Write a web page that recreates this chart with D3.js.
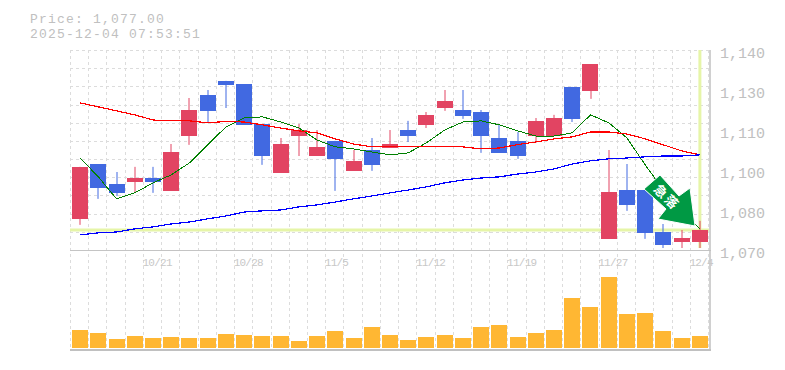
<!DOCTYPE html>
<html>
<head>
<meta charset="utf-8">
<script src="https://cdn.jsdelivr.net/npm/d3@7"></script>
<style>
	html, body { margin: 0; padding: 0; background: #fff; }
	svg { display: block; }
	text { font-family: "Liberation Mono", monospace; fill: #c0c0c0; }
</style>
</head>
<body>
<figure id="chart" style="margin:0"></figure>
<script>
var opens = [1080.9,1100.1,1093.1,1093.8,1095.2,1090.7,1109.9,1124.3,1129.2,1128.1,1114.1,1097,1109.9,1102.9,1108.2,1097.7,1105,1105.7,1112,1113.8,1119.7,1119,1118.3,1109.2,1108.2,1109.9,1109.9,1127.1,1125.7,1073.9,1091,1091,1076.3,1072.8,1072.8];
var closes = [1099.1,1091.7,1090,1095.2,1093.8,1104.3,1119,1118.7,1127.8,1113.8,1102.9,1107.1,1112,1106,1101.9,1101.2,1099.8,1107.1,1109.9,1117.3,1122.2,1116.9,1109.9,1104,1102.9,1115.2,1116.2,1115.9,1135.1,1090.3,1085.8,1076,1071.8,1074.2,1077];
var highs = [1099.1,1100.1,1097.3,1099.1,1099.1,1107.1,1123.2,1126,1129.2,1128.1,1114.1,1109.2,1114.1,1112,1108.2,1105,1109.2,1112,1115.2,1118.3,1126,1126,1119,1114.1,1111.3,1116.2,1117.3,1127.1,1135.1,1105,1100.1,1091,1079.1,1077,1080.2];
var lows = [1078.8,1087.9,1088.9,1090.3,1090,1090.7,1106.8,1114.8,1119.7,1113.8,1099.8,1097,1102.9,1102.9,1090.7,1097.7,1097.7,1105.7,1107.8,1112.7,1118.7,1115.9,1104,1104,1101.9,1107.5,1109.9,1114.8,1122.9,1073.9,1083.7,1073.9,1070.7,1070.7,1070.7];

var maRed = [1121.5,1120.1,1118.7,1117.3,1115.5,1115.2,1115.2,1114.5,1115,1114.8,1113.8,1112.7,1111.7,1111,1108.9,1107.1,1106.1,1106.1,1106.1,1106.1,1106.2,1106.1,1105.4,1105.7,1106.9,1107.8,1108.9,1109.6,1111.3,1111.3,1110.6,1108.9,1106.8,1104.7,1103.3];
var maGreen = [1102.2,1095.6,1087.9,1090,1093.5,1096.3,1100.5,1106.8,1113.1,1116.2,1116.6,1114.8,1112.7,1108.5,1106.1,1105.4,1104.3,1103.3,1104,1107.5,1112,1114.8,1115.2,1113.8,1111.7,1109.9,1109.9,1111,1117.3,1114.5,1109.2,1099.8,1091,1084,1077.4];
var maBlue = [1075.3,1076,1076.3,1077.4,1078.1,1079.1,1079.8,1080.9,1081.9,1083.3,1083.7,1084,1085.1,1085.8,1086.8,1087.9,1088.9,1090,1091,1092.1,1093.5,1094.5,1095.2,1095.6,1096.6,1097.3,1098.4,1100.1,1101.2,1101.9,1102.2,1102.6,1102.9,1102.9,1103.3];

var volumes = [18,15,9,12,10,11,10,10,14,13,12,12,7,12,17,10,21,13,8,11,13,10,21,23,11,15,18,50,41,71,34,35,17,10,12];

var priceTicks = [1140,1126,1112,1098,1084,1070];
var priceLabels = ["1,140","1,130","1,110","1,100","1,080","1,070"];
var dateIndex = [4,9,14,19,24,29,34];
var dateLabels = ["10/21","10/28","11/5","11/12","11/19","11/27","12/4"];

var lastPrice = 1077;
var title = ["Price: 1,077.00","2025-12-04 07:53:51"];

var dimensions = { width: 785, height: 370, left: 71, right: 709, top: 50, bottom: 250, volTop: 277, volBottom: 348, axisBottom: 350 };

var svg = d3.select("figure#chart").append("svg")
	.attr("width", dimensions.width)
	.attr("height", dimensions.height);

var index = d3.range(opens.length);

var xScale = d3.scaleBand().domain(index).range([dimensions.left, dimensions.right]).paddingInner(0.12).paddingOuter(0.06);
var step = xScale.step();
var xMid = function(i) { return xScale(i) + xScale.bandwidth() / 2; };
var yScale = d3.scaleLinear().domain([1070, 1140]).range([dimensions.bottom, dimensions.top]);
var vScale = d3.scaleLinear().domain([0, 71]).range([dimensions.volBottom, dimensions.volTop]);

// grid, dashed, on band edges
var gridX = d3.range(0, index.length + 1).map(function(i) { return dimensions.left + step * i; });
var gridY = d3.range(0, 12).map(function(i) { return dimensions.top + (dimensions.bottom - dimensions.top) * i / 11; });

svg.append("g").selectAll("line").data(gridX).enter().append("line")
	.attr("x1", function(d) { return Math.round(d) - 0.5; })
	.attr("x2", function(d) { return Math.round(d) - 0.5; })
	.attr("y1", dimensions.top).attr("y2", dimensions.axisBottom)
	.attr("stroke", "#dcdcdc").attr("stroke-dasharray", "3,3");
svg.append("g").selectAll("line").data(gridY).enter().append("line")
	.attr("x1", dimensions.left - 1).attr("x2", dimensions.right + 1)
	.attr("y1", function(d) { return Math.round(d) + 0.5; })
	.attr("y2", function(d) { return Math.round(d) + 0.5; })
	.attr("stroke", "#dcdcdc").attr("stroke-dasharray", "3,3");

// frame
svg.append("line").attr("x1", 70).attr("x2", 711).attr("y1", 250.5).attr("y2", 250.5).attr("stroke", "#c4c4c4");
svg.append("line").attr("x1", 70).attr("x2", 711).attr("y1", 350).attr("y2", 350).attr("stroke", "#c0c0c0").attr("stroke-width", 2);
svg.append("line").attr("x1", 710).attr("x2", 710).attr("y1", 50).attr("y2", 351).attr("stroke", "#c0c0c0").attr("stroke-width", 1.5);

// last price cross
svg.append("line").attr("x1", 70).attr("x2", 709)
	.attr("y1", yScale(lastPrice)).attr("y2", yScale(lastPrice))
	.attr("stroke", "#e6f5a8").attr("stroke-width", 3);
svg.append("line").attr("x1", xMid(34)).attr("x2", xMid(34))
	.attr("y1", dimensions.top).attr("y2", dimensions.bottom - 2)
	.attr("stroke", "#e6f5a8").attr("stroke-width", 3);

// candles
var upColor = "#e24462", downColor = "#4169e1";
var candleColor = function(i) { return closes[i] >= opens[i] ? upColor : downColor; };

svg.append("g").selectAll("line").data(index).enter().append("line")
	.attr("x1", function(i) { return Math.round(xMid(i)); })
	.attr("x2", function(i) { return Math.round(xMid(i)); })
	.attr("y1", function(i) { return yScale(highs[i]); })
	.attr("y2", function(i) { return yScale(lows[i]); })
	.attr("stroke", candleColor).attr("stroke-width", 1);

svg.append("g").selectAll("rect").data(index).enter().append("rect")
	.attr("x", function(i) { return Math.round(xScale(i)); })
	.attr("width", 16)
	.attr("y", function(i) { return yScale(Math.max(opens[i], closes[i])); })
	.attr("height", function(i) { return Math.abs(yScale(opens[i]) - yScale(closes[i])); })
	.attr("fill", candleColor)
	.attr("shape-rendering", "crispEdges");

// moving averages
var line = function(values) {
	return d3.line().x(function(d, i) { return xMid(i); }).y(function(d) { return yScale(d); })(values);
};
svg.append("path").attr("d", line(maGreen)).attr("fill", "none").attr("stroke", "#008000").attr("stroke-width", 1).attr("shape-rendering", "crispEdges");
svg.append("path").attr("d", line(maRed)).attr("fill", "none").attr("stroke", "#ff0000").attr("stroke-width", 1.2).attr("shape-rendering", "crispEdges");
svg.append("path").attr("d", line(maBlue)).attr("fill", "none").attr("stroke", "#0000ff").attr("stroke-width", 1.2).attr("shape-rendering", "crispEdges");

// volume
svg.append("g").selectAll("rect").data(index).enter().append("rect")
	.attr("x", function(i) { return Math.round(xScale(i)); })
	.attr("width", 16)
	.attr("y", function(i) { return vScale(volumes[i]); })
	.attr("height", function(i) { return vScale(0) - vScale(volumes[i]); })
	.attr("fill", "#ffb733")
	.attr("shape-rendering", "crispEdges");

// labels
svg.append("g").selectAll("text").data(title).enter().append("text")
	.attr("x", 30).attr("y", function(d, i) { return 23 + i * 15; })
	.attr("font-size", 13)
	.style("letter-spacing", "1.2px")
	.text(function(d) { return d; });

svg.append("g").selectAll("text").data(priceLabels).enter().append("text")
	.attr("x", 720)
	.attr("y", function(d, i) { return yScale(priceTicks[i]) + 8; })
	.attr("font-size", 15)
	.text(function(d) { return d; });

svg.append("g").selectAll("text").data(dateLabels).enter().append("text")
	.attr("x", function(d, i) { return xMid(dateIndex[i]) - 10.5; })
	.attr("y", 266)
	.attr("font-size", 11)
	.style("letter-spacing", "-0.75px")
	.style("fill", "#c8c8c8")
	.text(function(d) { return d; });

// stamp arrow
var stamp = svg.append("g");
stamp.append("polygon")
	.attr("points", "660,175 679,196 690,188 695,226 658,219 666,209 644,189")
	.attr("fill", "#009944").attr("stroke", "#fff").attr("stroke-width", 1);
stamp.append("g").attr("transform", "translate(667,197) rotate(45)")
	.append("text")
	.attr("text-anchor", "middle").attr("x", 0).attr("y", 5)
	.attr("font-size", 13).attr("font-weight", "bold")
	.style("letter-spacing", "2px")
	.style("font-family", "'Noto Sans CJK JP'").style("fill", "#fff")
	.text("急落");
</script>
</body>
</html>
